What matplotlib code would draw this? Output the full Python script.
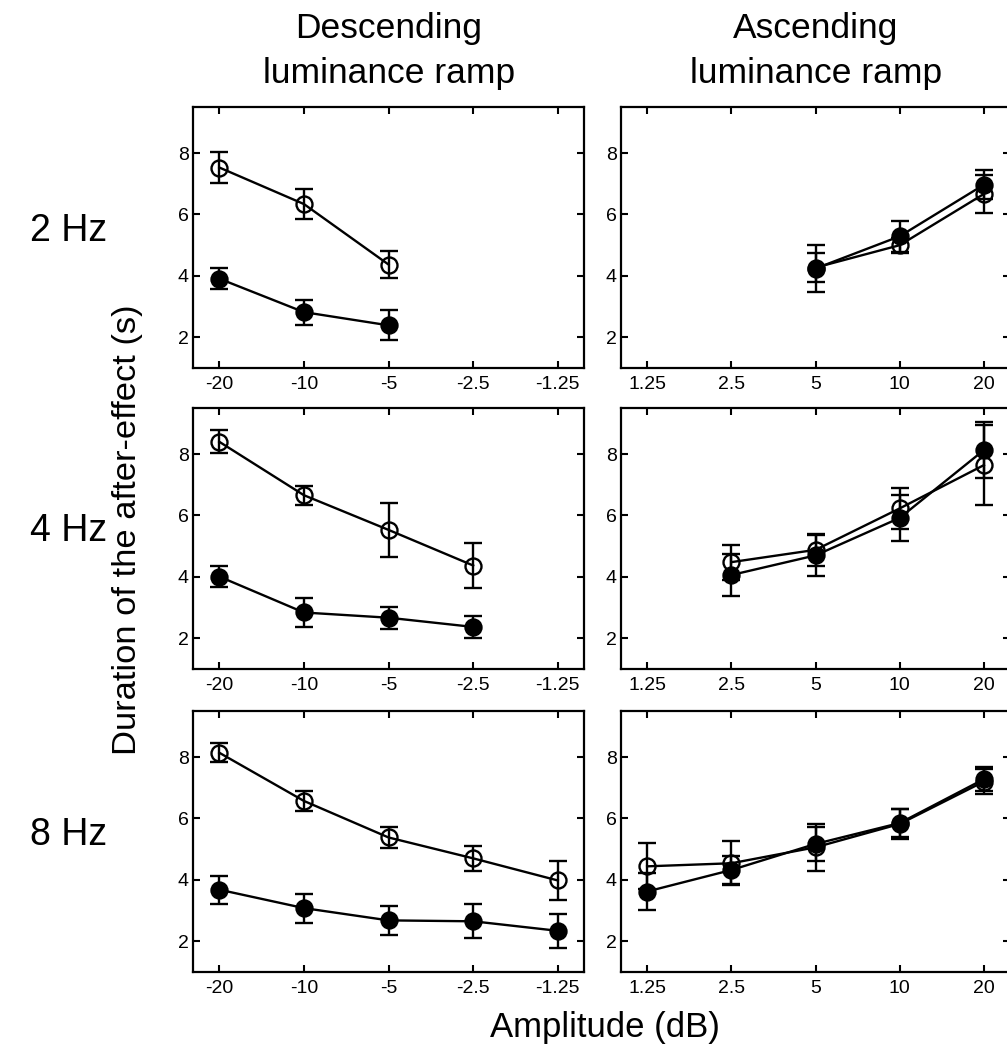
import numpy as np
import matplotlib
matplotlib.use('Agg')
import matplotlib.pyplot as plt

plt.rcParams['font.family'] = ['Liberation Sans', 'DejaVu Sans']

# amplitude categories (dB)
desc_amps = ['-20', '-10', '-5', '-2.5', '-1.25']
asc_amps = ['1.25', '2.5', '5', '10', '20']
freqs = ['2 Hz', '4 Hz', '8 Hz']

# 2 Hz
desc2_x = ['-20', '-10', '-5']
desc2_open = [7.53, 6.34, 4.37]
desc2_open_err = [0.50, 0.50, 0.43]
desc2_fill = [3.91, 2.82, 2.39]
desc2_fill_err = [0.34, 0.41, 0.49]
asc2_x = ['5', '10', '20']
asc2_open = [4.27, 5.00, 6.67]
asc2_open_err = [0.47, 0.25, 0.63]
asc2_fill = [4.24, 5.29, 6.97]
asc2_fill_err = [0.78, 0.51, 0.47]

# 4 Hz
desc4_x = ['-20', '-10', '-5', '-2.5']
desc4_open = [8.40, 6.66, 5.53, 4.37]
desc4_open_err = [0.38, 0.31, 0.88, 0.73]
desc4_fill = [4.01, 2.84, 2.67, 2.37]
desc4_fill_err = [0.35, 0.47, 0.36, 0.35]
asc4_x = ['2.5', '5', '10', '20']
asc4_open = [4.48, 4.88, 6.23, 7.64]
asc4_open_err = [0.57, 0.52, 0.68, 1.29]
asc4_fill = [4.06, 4.70, 5.92, 8.13]
asc4_fill_err = [0.69, 0.68, 0.74, 0.90]

# 8 Hz
desc8_x = ['-20', '-10', '-5', '-2.5', '-1.25']
desc8_open = [8.14, 6.57, 5.38, 4.70, 3.98]
desc8_open_err = [0.31, 0.33, 0.35, 0.40, 0.63]
desc8_fill = [3.68, 3.08, 2.68, 2.65, 2.34]
desc8_fill_err = [0.46, 0.47, 0.48, 0.55, 0.55]
asc8_x = ['1.25', '2.5', '5', '10', '20']
asc8_open = [4.44, 4.54, 5.06, 5.82, 7.20]
asc8_open_err = [0.75, 0.72, 0.76, 0.48, 0.40]
asc8_fill = [3.62, 4.32, 5.17, 5.85, 7.28]
asc8_fill_err = [0.60, 0.47, 0.55, 0.45, 0.40]

panels = [
    [(desc_amps, desc2_x, desc2_open, desc2_open_err, desc2_fill, desc2_fill_err),
     (asc_amps, asc2_x, asc2_open, asc2_open_err, asc2_fill, asc2_fill_err)],
    [(desc_amps, desc4_x, desc4_open, desc4_open_err, desc4_fill, desc4_fill_err),
     (asc_amps, asc4_x, asc4_open, asc4_open_err, asc4_fill, asc4_fill_err)],
    [(desc_amps, desc8_x, desc8_open, desc8_open_err, desc8_fill, desc8_fill_err),
     (asc_amps, asc8_x, asc8_open, asc8_open_err, asc8_fill, asc8_fill_err)],
]

fig = plt.figure(figsize=(10.07, 10.44), dpi=100)

row_bottoms = [0.6475, 0.3592, 0.0690]
row_h = 0.250
col_lefts = [0.1917, 0.6167]
col_w = [0.3883, 0.3863]

style = dict(color='black', lw=1.7, elinewidth=1.7, capsize=6.5, capthick=1.7,
             marker='o', ms=11.5, mew=1.7)

for r in range(3):
    for c in range(2):
        ax = fig.add_axes([col_lefts[c], row_bottoms[r], col_w[c], row_h])
        cats, xs, om, oe, fm, fe = panels[r][c]
        pos = [cats.index(v) for v in xs]
        ax.errorbar(pos, om, yerr=oe, mfc='none', mec='black', **style)
        ax.errorbar(pos, fm, yerr=fe, mfc='black', mec='black', **style)
        ax.set_xlim(-0.31, 4.31)
        ax.set_ylim(1, 9.5)
        ax.set_xticks(range(len(cats)))
        ax.set_xticklabels(cats)
        ax.set_yticks([2, 4, 6, 8])
        ax.tick_params(direction='in', top=True, right=True, length=5,
                       width=1.5, labelsize=14)
        ax.tick_params(axis='x', pad=6)
        ax.tick_params(axis='y', pad=3)
        for s in ax.spines.values():
            s.set_linewidth(1.6)

# column titles
fig.text(0.386, 1 - 38 / 1044, 'Descending', ha='center', va='baseline', fontsize=25.5)
fig.text(0.386, 1 - 83 / 1044, 'luminance ramp', ha='center', va='baseline', fontsize=25.5)
fig.text(0.810, 1 - 38 / 1044, 'Ascending', ha='center', va='baseline', fontsize=25.5)
fig.text(0.810, 1 - 83 / 1044, 'luminance ramp', ha='center', va='baseline', fontsize=25.5)

# row labels
for label, yb in zip(freqs, [241, 541, 845]):
    fig.text(0.03, 1 - yb / 1044, label, ha='left', va='baseline', fontsize=27)

fig.text(0.127, 0.493, 'Duration of the after-effect (s)', rotation=90,
         ha='center', va='center', fontsize=24.8)
fig.text(0.601, 1 - 1037 / 1044, 'Amplitude (dB)', ha='center', va='baseline',
         fontsize=25)

fig.savefig('out.png', dpi=100)
